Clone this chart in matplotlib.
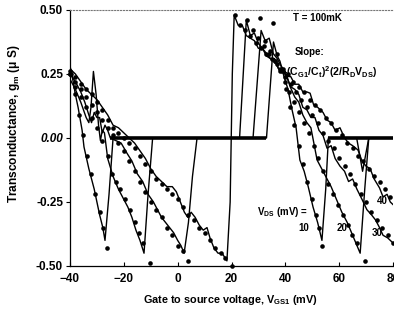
import matplotlib
matplotlib.use('Agg')
import matplotlib.pyplot as plt

plt.rcParams.update({
    "font.family": ["Liberation Sans", "DejaVu Sans"],
    "font.weight": "bold",
    "axes.labelweight": "bold",
    "font.size": 8,
    "mathtext.fontset": "custom",
    "mathtext.rm": "Liberation Sans:bold",
    "mathtext.it": "Liberation Sans:bold",
    "mathtext.bf": "Liberation Sans:bold",
    "mathtext.default": "rm",
})

# ---- data (x: V_GS1 in mV, y: g_m in uS) ----
VDS = [10, 20, 30, 40]

line10_x = [-40, -39.5, -38, -37, -35.5, -34.8, -33, -31, -29, -27.8, -27, -25.5, -24, 33,
            35.6, 37, 38, 39.5, 41, 42.5, 44, 45.4, 47, 48.5, 50.3, 52, 53.6, 55, 56,
            66.5, 68.7, 71, 80]
line10_y = [0.28, 0.26, 0.17, 0.12, 0.03, -0.035, -0.12, -0.20, -0.30, -0.35, -0.40, -0.22, 0.0, 0.0,
            0.375, 0.32, 0.30, 0.24, 0.19, 0.11, 0.04, -0.086, -0.13, -0.19, -0.27, -0.33, -0.40, -0.20, 0.0,
            0.0, -0.13, 0.0, 0.0]
dots10_x = [-39.6, -38.2, -36.8, -35.3, -33.8, -32.2, -30.6, -29.0, -27.6, -26.4,
            35.4, 37.0, 38.6, 40.2, 41.8, 43.4, 45.0, 46.6, 48.2, 49.8, 51.4, 52.6, 53.5]
dots10_y = [0.25, 0.17, 0.09, 0.01, -0.07, -0.14, -0.22, -0.29, -0.35, -0.43,
            0.45, 0.33, 0.26, 0.19, 0.12, 0.05, -0.03, -0.10, -0.17, -0.24, -0.30, -0.35, -0.42]

line20_x = [-40, -38, -36, -34, -33, -32.2, -31.3, -30.3, -29.4, -28.7, -28, -27.2, -26, -24, -22,
            -20, -18.5, -17, -15.5, -14, -12.5, -11, -9.3, 28,
            31, 32.5, 34, 35.5, 37, 38.5, 40, 41.8, 43.5, 45, 46.5, 48, 49.5, 51.8, 53.5, 55, 57,
            59, 61, 63, 65, 67.8, 69.5, 71]
line20_y = [0.23, 0.19, 0.14, 0.08, 0.06, 0.12, 0.26, 0.17, 0.05, -0.01, 0.03, 0.02, -0.08, -0.15, -0.20,
            -0.24, -0.27, -0.31, -0.36, -0.40, -0.45, -0.22, 0.0, 0.0,
            0.42, 0.38, 0.39, 0.33, 0.31, 0.28, 0.26, 0.20, 0.16, 0.14, 0.09, 0.06, 0.04, -0.086, -0.12, -0.15, -0.19,
            -0.24, -0.29, -0.33, -0.38, -0.45, -0.20, 0.0]
dots20_x = [-40, -38, -36, -34, -32, -30, -28, -26, -24.4, -23, -21.4, -19.6, -17.7, -15.9, -14.4, -12.8, -10.3,
            30.6, 32.5, 34.3, 36.1, 37.9, 39.7, 41.5, 43.3, 45.1, 46.9, 48.7, 50.5, 52.3, 54.1, 55.9,
            57.7, 59.5, 61.3, 63.1, 64.9, 66.5, 69.6]
dots20_y = [0.25, 0.20, 0.16, 0.12, 0.08, 0.04, -0.01, -0.07, -0.14, -0.17, -0.20, -0.24, -0.28, -0.33, -0.37, -0.41, -0.49,
            0.47, 0.38, 0.34, 0.30, 0.26, 0.22, 0.18, 0.14, 0.10, 0.06, 0.02, -0.03, -0.08, -0.13, -0.18,
            -0.22, -0.26, -0.30, -0.34, -0.38, -0.41, -0.48]

line30_x = [-40, -38, -36, -34.5, -33, -32, -31, -30, -29, -28, -27, -26, -25, -23, -21, -18.8, -17, -15,
            -13, -11, -9, -7.5, -6, -4.5, -3, -1.5, 0, 1.2, 2.4, 4, 5.5, 7.2, 23,
            25.5, 27, 28.5, 30, 31.5, 33, 34.5, 36, 37.5, 39, 40.5, 42, 43.5, 45, 46.5, 48, 49.5, 51,
            52.5, 54, 55.5, 57, 58.5, 60.3, 62, 63.5, 65, 66.6, 68.5, 70.3, 72, 73.5, 75, 76.3, 78, 80]
line30_y = [0.25, 0.22, 0.18, 0.14, 0.09, 0.06, 0.10, 0.08, 0.08, 0.02, 0.05, 0.03, 0.0, -0.01, -0.02, -0.06, -0.09, -0.14,
            -0.17, -0.22, -0.25, -0.28, -0.31, -0.33, -0.35, -0.37, -0.40, -0.42, -0.45, -0.33, -0.15, 0.0, 0.0,
            0.46, 0.40, 0.41, 0.37, 0.35, 0.33, 0.31, 0.31, 0.27, 0.26, 0.24, 0.20, 0.19, 0.17, 0.12, 0.11, 0.08, 0.08,
            0.03, 0.01, -0.04, -0.03, -0.08, -0.11, -0.13, -0.17, -0.16, -0.20, -0.24, -0.28, -0.30, -0.32, -0.35, -0.38, -0.39, -0.41]
dots30_x = [-40, -38, -36, -34, -32, -30, -28, -26, -24, -22, -20, -18, -16, -14, -12, -10, -8, -6, -4, -2, 0, 2, 3.9,
            25.8, 28, 30, 32, 34, 36, 38, 40, 42, 44, 46, 48, 50, 52, 54, 56, 58, 60, 62, 64, 66, 68, 70,
            72, 74, 76, 78, 80]
dots30_y = [0.25, 0.22, 0.19, 0.16, 0.13, 0.10, 0.07, 0.04, 0.01, -0.02, -0.05, -0.09, -0.13, -0.17, -0.21, -0.25, -0.28,
            -0.31, -0.35, -0.38, -0.42, -0.44, -0.48,
            0.46, 0.42, 0.39, 0.36, 0.33, 0.30, 0.27, 0.24, 0.21, 0.18, 0.15, 0.12, 0.09, 0.06, 0.02, -0.01, -0.04,
            -0.08, -0.11, -0.14, -0.18, -0.22, -0.25, -0.29, -0.32, -0.35, -0.38, -0.41]

line40_x = [-40, -38, -36, -34, -32, -30, -28, -26, -24, -22, -20, -18, -16, -14, -12, -10, -8, -6, -4, -2,
            -0.5, 1, 2.5, 3.8, 5, 6.5, 8, 9.5, 10.9, 12, 13.5, 15, 16.5, 18.3, 19.5, 20.3,
            21, 22.5, 24, 25.5, 27, 28.5, 30, 31.5, 33, 34.5, 36, 37.5, 39, 40.5, 42, 43.5, 45, 46.5, 48,
            49.2, 50.5, 52, 54, 55.5, 57, 58.5, 60.3, 62, 63.5, 65, 67, 68.5, 70, 71.5, 73, 75, 76.3, 77.8, 79, 80]
line40_y = [0.27, 0.25, 0.22, 0.19, 0.17, 0.15, 0.12, 0.09, 0.05, 0.04, 0.02, 0.0, -0.02, -0.05, -0.08, -0.12, -0.15,
            -0.17, -0.19, -0.19, -0.21, -0.25, -0.29, -0.31, -0.29, -0.31, -0.34, -0.36, -0.35, -0.39, -0.43, -0.45,
            -0.45, -0.48, -0.25, 0.25,
            0.48, 0.44, 0.44, 0.40, 0.39, 0.38, 0.35, 0.35, 0.32, 0.31, 0.30, 0.27, 0.27, 0.24, 0.24, 0.21, 0.21, 0.18,
            0.18, 0.175, 0.13, 0.12, 0.10, 0.07, 0.06, 0.03, 0.04, 0.0, -0.02, -0.03, -0.047, -0.09, -0.11, -0.12,
            -0.16, -0.195, -0.23, -0.22, -0.25, -0.26]
dots40_x = [-40, -38, -36, -34, -32, -30, -28, -26, -24, -22, -20, -18, -16, -14, -12, -10, -8, -6, -4, -2, 0,
            2, 4, 6, 8, 10, 12, 14, 16, 17.5, 20.2,
            21.3, 23, 25, 27, 29, 31, 33, 35, 37, 39, 41, 43, 45, 47, 49, 51, 53, 55, 57, 59, 61, 63, 65, 67,
            69, 71, 73, 75, 77, 79]
dots40_y = [0.26, 0.24, 0.21, 0.19, 0.17, 0.14, 0.11, 0.07, 0.04, 0.02, 0.0, -0.02, -0.04, -0.07, -0.10, -0.13,
            -0.16, -0.18, -0.20, -0.22, -0.24, -0.27, -0.30, -0.32, -0.35, -0.37, -0.40, -0.43, -0.45, -0.47, -0.50,
            0.48, 0.44, 0.42, 0.40, 0.37, 0.35, 0.33, 0.31, 0.29, 0.27, 0.25, 0.22, 0.20, 0.18, 0.15, 0.13, 0.11,
            0.08, 0.06, 0.03, 0.01, -0.02, -0.04, -0.07, -0.09, -0.12, -0.15, -0.17, -0.20, -0.23]

# blockade plateaus (g_m = 0), drawn as the thick zero line
plateau_start = [-25, 56]
plateau_end = [33, 80]

lines = [(line10_x, line10_y), (line20_x, line20_y), (line30_x, line30_y), (line40_x, line40_y)]
dots = [(dots10_x, dots10_y), (dots20_x, dots20_y), (dots30_x, dots30_y), (dots40_x, dots40_y)]

fig = plt.figure(figsize=(3.94, 3.10), dpi=100)
ax = fig.add_axes([70 / 394, 1 - 266 / 310, 323 / 394, 256 / 310])

for (lx, ly), (dx, dy) in zip(lines, dots):
    ax.plot(lx, ly, color='k', lw=1.0, zorder=3)
    ax.plot(dx, dy, 'o', color='k', ms=3.3, mew=0, zorder=4, clip_on=False)

ax.hlines([0.0] * len(plateau_start), plateau_start, plateau_end,
          color='k', lw=2.6, zorder=3)

ax.set_xlim(-40, 80)
ax.set_ylim(-0.5, 0.5)
ax.set_xticks([-40, -20, 0, 20, 40, 60, 80])
ax.set_yticks([-0.5, -0.25, 0.0, 0.25, 0.5])
ax.set_yticklabels(['-0.50', '-0.25', '0.00', '0.25', '0.50'])
for lab in ax.get_yticklabels():
    if lab.get_text() == '0.00':
        lab.set_style('italic')
ax.tick_params(axis='x', direction='in', length=3, width=0.8, pad=5, labelsize=8.5)
ax.tick_params(axis='y', direction='out', length=3, width=0.8, pad=2, labelsize=8.5)

ax.spines['right'].set_visible(False)
ax.spines['top'].set_linestyle(':')
ax.spines['top'].set_color('#777777')
ax.spines['left'].set_linewidth(0.9)
ax.spines['bottom'].set_linewidth(0.9)

ax.set_xlabel('Gate to source voltage, V$_{GS1}$ (mV)', fontsize=7.8)
ax.xaxis.set_label_coords(0.497, -0.105)
ax.set_ylabel('Transconductance, g$_m$ (\u03bc S)', fontsize=8.6)
ax.yaxis.set_label_coords(-0.149, 0.555)

ax.text(42.8, 0.47, 'T = 100mK', fontsize=7, va='center', ha='left')
ax.text(43.6, 0.335, 'Slope:', fontsize=7, va='center', ha='left')
ax.text(39.1, 0.258, '-(C$_{G1}$/C$_t$)$^2$(2/R$_D$V$_{DS}$)', fontsize=7.6, va='center', ha='left')
ax.text(29.5, -0.29, 'V$_{DS}$ (mV) =', fontsize=7, va='center', ha='left')
ax.text(44.7, -0.35, '10', fontsize=7, va='center', ha='left')
ax.text(59.2, -0.35, '20', fontsize=7, va='center', ha='left')
ax.text(72.0, -0.372, '30', fontsize=7, va='center', ha='left')
ax.text(74.0, -0.245, '40', fontsize=7, va='center', ha='left')

fig.savefig('out.png', dpi=100, facecolor='white')
